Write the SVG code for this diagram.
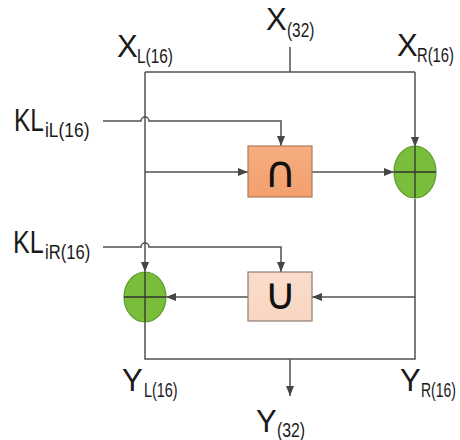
<svg xmlns="http://www.w3.org/2000/svg" width="460" height="440" viewBox="0 0 460 440">
<style>
.ln{fill:none;stroke:#505050;stroke-width:1.5}
.arr{marker-end:url(#ah)}
.m{font-family:"Liberation Sans",Arial,sans-serif;font-size:31px;fill:#1a1a1a}
.s{font-family:"Liberation Sans",Arial,sans-serif;font-size:20px;fill:#1a1a1a}
.xor{fill:#78be3a;stroke:#5a9a2e;stroke-width:1.2}
.cross{stroke:#333;stroke-width:1.3}
.op{font-family:"DejaVu Sans",sans-serif;font-size:44px;fill:#111;text-anchor:middle}
</style>
<defs>
<marker id="ah" markerUnits="userSpaceOnUse" markerWidth="11" markerHeight="9" refX="10" refY="4" orient="auto">
<path d="M0,0 L10,4 L0,8 z" fill="#454545"/>
</marker>
<linearGradient id="gOr" x1="0" y1="0" x2="0" y2="1"><stop offset="0" stop-color="#f6ad80"/><stop offset="1" stop-color="#f2a06e"/></linearGradient>
<linearGradient id="gLt" x1="0" y1="0" x2="0" y2="1"><stop offset="0" stop-color="#fbdccb"/><stop offset="1" stop-color="#f8d6c2"/></linearGradient>
</defs>
<rect width="460" height="440" fill="#ffffff"/>
<g id="connectors">
<path class="ln" d="M290,47 V72"/>
<path class="ln" d="M145,72 H415"/>
<path class="ln arr" d="M145,72 V272"/>
<path class="ln arr" d="M415,72 V147"/>
<path class="ln" d="M415,199 V359 H145 V322"/>
<path class="ln arr" d="M290,359 V396"/>
<path class="ln arr" d="M103,121 H141 a4,4 0 0 1 8,0 H281 V146"/>
<path class="ln arr" d="M103,247 H141 a4,4 0 0 1 8,0 H281 V272"/>
<path class="ln arr" d="M145,172 H248"/>
<path class="ln arr" d="M312,172 H394"/>
<path class="ln arr" d="M415,297 H312"/>
<path class="ln arr" d="M248,297 H166"/>
</g>
<g id="and-box">
<rect x="248" y="146" width="64" height="51" fill="url(#gOr)" stroke="#b07a58" stroke-width="1.2"/>
<text class="op" x="280" y="187">∩</text>
</g>
<g id="or-box">
<rect x="248" y="272" width="64" height="49" fill="url(#gLt)" stroke="#8c7c72" stroke-width="1.2"/>
<text class="op" x="280" y="309">∪</text>
</g>
<g id="xor-right">
<ellipse class="xor" cx="415" cy="172" rx="21" ry="26"/>
<path class="cross" d="M394,172 H436 M415,146 V198"/>
</g>
<g id="xor-left">
<ellipse class="xor" cx="145" cy="297" rx="21" ry="25"/>
<path class="cross" d="M124,297 H166 M145,272 V322"/>
</g>
<g id="labels">
<text class="m" x="266" y="30">X</text>
<text class="s" transform="translate(287,37) scale(0.77,1)">(32)</text>
<text class="m" x="117" y="57">X</text>
<text class="s" transform="translate(137,63) scale(0.77,1)">L(16)</text>
<text class="m" x="397" y="56">X</text>
<text class="s" transform="translate(417,62) scale(0.74,1)">R(16)</text>
<text class="m" transform="translate(14,131) scale(0.79,1)">KL</text>
<text class="s" transform="translate(45,137) scale(0.87,1)">iL(16)</text>
<text class="m" transform="translate(13,253) scale(0.81,1)">KL</text>
<text class="s" transform="translate(45,259) scale(0.83,1)">iR(16)</text>
<text class="m" x="122" y="391">Y</text>
<text class="s" transform="translate(144,397) scale(0.72,1)">L(16)</text>
<text class="m" x="400" y="391">Y</text>
<text class="s" transform="translate(421,397) scale(0.7,1)">R(16)</text>
<text class="m" x="256" y="432">Y</text>
<text class="s" transform="translate(277,437) scale(0.79,1)">(32)</text>
</g>
</svg>
